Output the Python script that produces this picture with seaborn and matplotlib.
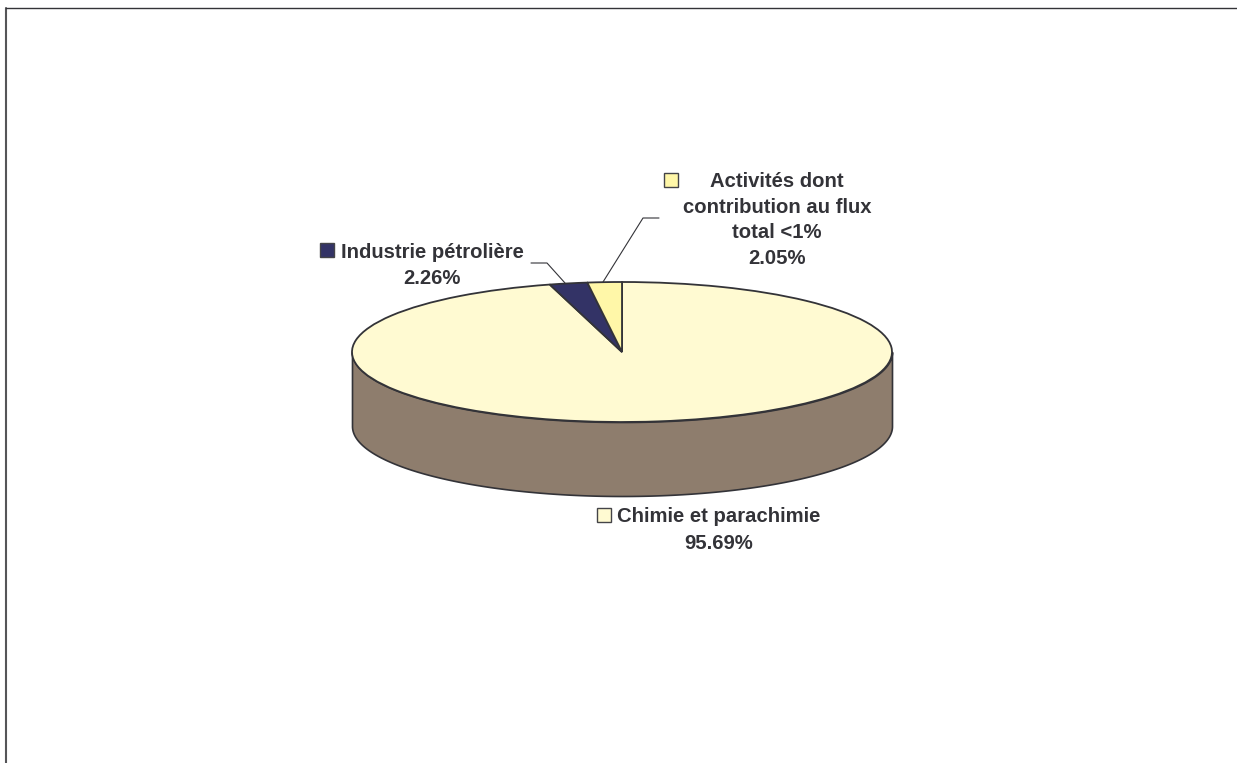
"""
Camembert 3D : contribution au flux total par secteur d'activité
"""

import numpy as np
import matplotlib
matplotlib.use('Agg')
import matplotlib.pyplot as plt
from matplotlib.lines import Line2D
from matplotlib.patches import Rectangle
import seaborn as sns

# Données
categories = ['Chimie et parachimie', 'Industrie pétrolière',
              'Activités dont\ncontribution au flux\ntotal <1%']
values = [95.69, 2.26, 2.05]
colors = ['#FFFAD2', '#333366', '#FFF7A8']
wall_color = '#8E7D6D'
line_color = '#333338'

W, H = 1237, 763
sns.set_theme(style='white')
plt.rcParams['font.family'] = ['Liberation Sans', 'DejaVu Sans']


def fx(px):
    return px / W


def fy(py):
    return 1 - py / H


fig = plt.figure(figsize=(W / 100, H / 100), dpi=100, facecolor='white')

# Axes : le disque unité devient une ellipse (a=270, b=70 px)
cx, cy, a, b, depth = 622, 352, 270, 70, 74
ax = fig.add_axes([fx(cx - a), fy(cy + b), 2 * a / W, 2 * b / H])
ax.pie(values, colors=colors, startangle=90, counterclock=False, radius=1,
       wedgeprops={'edgecolor': line_color, 'linewidth': 1.3, 'zorder': 3})
ax.set_aspect('auto')
ax.set_xlim(-1, 1)
ax.set_ylim(-1, 1)
ax.set_axis_off()

# Paroi du cylindre
t = np.linspace(np.pi, 2 * np.pi, 300)
ax.fill_between(np.cos(t), np.sin(t), np.sin(t) - depth / b, color=wall_color,
                edgecolor=line_color, linewidth=1.2, zorder=1, clip_on=False)
for patch in ax.patches:
    patch.set_clip_on(False)

# Cadre (haut et gauche seulement)
fig.add_artist(Line2D([fx(6), fx(6)], [fy(8), fy(H)], color='#555558', linewidth=1.5))
fig.add_artist(Line2D([fx(6), fx(W)], [fy(8), fy(8)], color=line_color, linewidth=1.0))

# Lignes de rappel
leaders = [
    ([531, 547, 565], [263, 263, 283]),
    ([659, 643, 603], [218, 218, 282]),
]
for xs, ys in leaders:
    fig.add_artist(Line2D([fx(x) for x in xs], [fy(y) for y in ys],
                          color=line_color, linewidth=0.8))

# Étiquettes
labels = [
    (718.5, 516.5, 543.5, 0),
    (432, 252.5, 278.5, 1),
]
text_style = {'fontsize': 14.6, 'fontweight': 'bold', 'color': line_color,
              'ha': 'center', 'va': 'center'}
for x, y1, y2, i in labels:
    fig.text(fx(x), fy(y1), categories[i], **text_style)
    fig.text(fx(x), fy(y2), f'{values[i]:.2f}%', **text_style)

for j, line in enumerate(categories[2].split('\n') + [f'{values[2]:.2f}%']):
    fig.text(fx(777), fy(181.5 + j * 25.7), line, **text_style)

# Carrés de légende
keys = [(597, 508, 0), (320, 243, 1), (664, 173, 2)]
for x, y, i in keys:
    fig.add_artist(Rectangle((fx(x), fy(y + 14)), 14 / W, 14 / H,
                             transform=fig.transFigure, facecolor=colors[i],
                             edgecolor='#444448', linewidth=1.0))

fig.savefig('out.png', dpi=100)
